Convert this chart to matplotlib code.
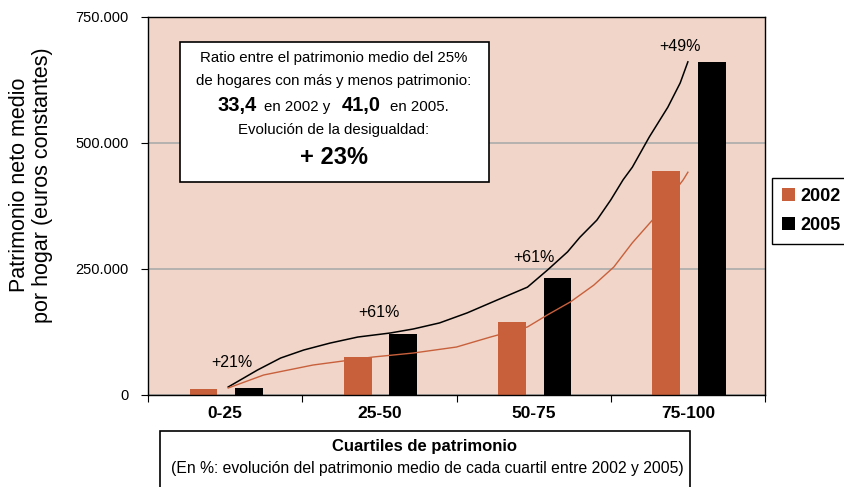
import numpy as np
import matplotlib.pyplot as plt
from matplotlib.patches import Rectangle

plt.rcParams['font.family'] = ['Liberation Sans', 'DejaVu Sans']

# Data
quartiles = ['0-25', '25-50', '50-75', '75-100']
wealth_2002 = [12000, 75000, 145000, 444000]
wealth_2005 = [14500, 121000, 232000, 661000]
growth_labels = ['+21%', '+61%', '+61%', '+49%']

# distribution curves (x in quartile units, y in euros)
curve_2005_x = [0.02, 0.21, 0.36, 0.51, 0.68, 0.86, 1.07, 1.22, 1.39, 1.57, 1.76, 1.96,
                2.09, 2.22, 2.30, 2.41, 2.50, 2.58, 2.64, 2.75, 2.87, 2.95, 3.00]
curve_2005_y = [15900, 49600, 73400, 89300, 103000, 115000, 123000, 131000, 143000, 163000,
                188000, 214000, 248000, 284000, 313000, 347000, 387000, 427000, 452000,
                512000, 571000, 619000, 661000]
curve_2002_x = [0.02, 0.25, 0.57, 0.96, 1.22, 1.50, 1.72, 1.96, 2.09, 2.24, 2.39, 2.52,
                2.64, 2.77, 2.97, 3.00]
curve_2002_y = [13900, 39700, 59500, 75400, 83300, 95200, 115000, 135000, 159000, 185000,
                218000, 254000, 302000, 347000, 427000, 442000]

c2002 = '#C8603C'
c2005 = '#000000'
bg = '#F0D5C8'

fig = plt.figure(figsize=(8.44, 4.87), dpi=100)
ax = fig.add_axes([148/844, 92/487, 617/844, 378/487])
ax.set_facecolor(bg)

x = np.arange(len(quartiles))
w = 0.18
ax.bar(x - 0.14, wealth_2002, w, color=c2002, label='2002', zorder=2)
ax.bar(x + 0.155, wealth_2005, w, color=c2005, label='2005', zorder=2)

ax.plot(curve_2005_x, curve_2005_y, color=c2005, lw=1.1, zorder=3)
ax.plot(curve_2002_x, curve_2002_y, color=c2002, lw=1.0, zorder=3)

# growth labels
lab_pos = [(0.045, 65000), (1.0, 163000), (2.0, 272000), (2.95, 692000)]
for (lx, ly), t in zip(lab_pos, growth_labels):
    ax.text(lx, ly, t, ha='center', va='center', fontsize=11.5, zorder=4)

ax.set_xlim(-0.5, 3.5)
ax.set_ylim(0, 750000)
ax.set_yticks([0, 250000, 500000, 750000])
ax.set_yticklabels(['0', '250.000', '500.000', '750.000'], fontsize=10.5)
ax.yaxis.grid(True, color='#ABABAB', lw=1.2, zorder=0)
ax.set_axisbelow(True)

ax.set_xticks(np.arange(-0.5, 4, 1))
ax.set_xticklabels([])
ax.set_xticks(x, minor=True)
ax.set_xticklabels(quartiles, minor=True, fontsize=12.5, fontweight='bold')
ax.tick_params(axis='x', which='minor', length=0, pad=8)
ax.tick_params(axis='both', which='major', length=5, direction='out', color='black')
ax.tick_params(axis='y', pad=9)
for s in ax.spines.values():
    s.set_color('black')
    s.set_linewidth(1.0)


def px(xp, yp):
    return xp / 844, 1 - yp / 487


# y label
fig.text(*px(31, 185), 'Patrimonio neto medio\npor hogar (euros constantes)', rotation=90,
         ha='center', va='center', fontsize=15.5, linespacing=1.1)

# annotation box
fig.patches.append(Rectangle(px(180, 182), 309/844, 140/487, transform=fig.transFigure,
                             facecolor='white', edgecolor='black', lw=1.2, zorder=5))
fig.text(*px(334, 58), 'Ratio entre el patrimonio medio del 25%', ha='center', va='center',
         fontsize=10.8, zorder=6)
fig.text(*px(334, 81), 'de hogares con más y menos patrimonio:', ha='center', va='center',
         fontsize=10.8, zorder=6)
fig.text(*px(218, 106), '33,4', ha='left', va='center', fontsize=14.5, fontweight='bold', zorder=6)
fig.text(*px(264, 107), 'en 2002 y', ha='left', va='center', fontsize=10.8, zorder=6)
fig.text(*px(342, 106), '41,0', ha='left', va='center', fontsize=14.5, fontweight='bold', zorder=6)
fig.text(*px(390, 107), 'en 2005.', ha='left', va='center', fontsize=10.8, zorder=6)
fig.text(*px(334, 130), 'Evolución de la desigualdad:', ha='center', va='center',
         fontsize=10.8, zorder=6)
fig.text(*px(334, 157), '+ 23%', ha='center', va='center', fontsize=17, fontweight='bold',
         zorder=6)

# x-axis title box
fig.patches.append(Rectangle(px(160, 500), 530/844, 69/487, transform=fig.transFigure,
                             facecolor='white', edgecolor='black', lw=1.2, zorder=5))
fig.text(*px(425, 446), 'Cuartiles de patrimonio', ha='center', va='center', fontsize=12,
         fontweight='bold', zorder=6)
fig.text(*px(427, 468), '(En %: evolución del patrimonio medio de cada cuartil entre 2002 y 2005)',
         ha='center', va='center', fontsize=11.3, zorder=6)

# legend
leg = fig.legend(loc='upper left', bbox_to_anchor=px(772, 178), fancybox=False,
                 edgecolor='black', framealpha=1, prop={'weight': 'bold', 'size': 13},
                 handlelength=0.75, handleheight=0.75, handletextpad=0.25,
                 borderpad=0.55, labelspacing=0.65, borderaxespad=0)
leg.get_frame().set_linewidth(1.0)

fig.savefig('out.png', dpi=100)
